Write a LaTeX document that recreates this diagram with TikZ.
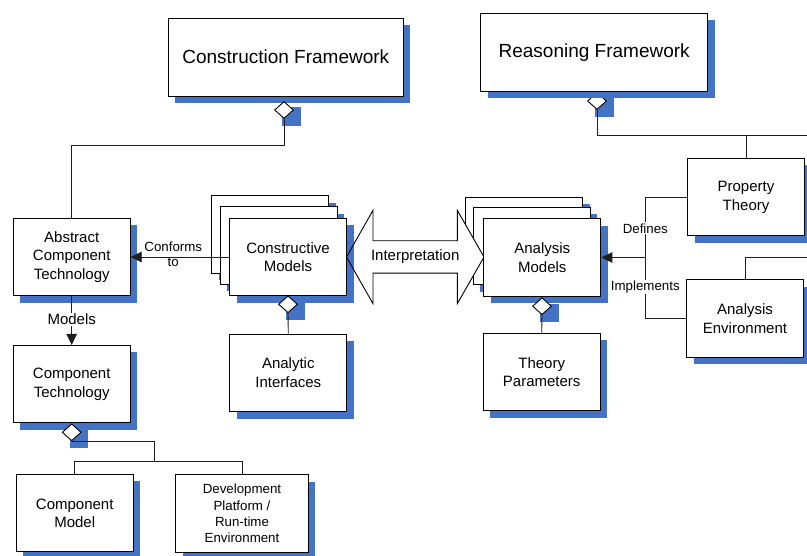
\documentclass[tikz,border=0pt]{standalone}
\usepackage{fontspec}
\setmainfont{Liberation Sans}
\usetikzlibrary{shapes.geometric,arrows.meta,shadows,calc}
\definecolor{shadowblue}{RGB}{68,114,196}
\definecolor{linegray}{RGB}{30,30,30}

\begin{document}
\begin{tikzpicture}[x=1pt,y=-1pt,
  shadowed/.style={drop shadow={shadow xshift=7pt,shadow yshift=-7pt,fill=shadowblue,opacity=1}},
  box/.style={draw=black,line width=1pt,fill=white,shadowed,minimum width=117pt,
    minimum height=77.5pt,inner sep=2pt,align=center,font=\fontsize{15}{18.5}\selectfont},
  bigbox/.style={box,minimum height=77.7pt,font=\fontsize{19}{22}\selectfont},
  smallbox/.style={box,font=\fontsize{13.3}{16.1}\selectfont},
  agg/.style={diamond,draw=black,line width=0.9pt,fill=white,minimum width=19pt,
    minimum height=17pt,inner sep=0pt},
  aggshadow/.style={rectangle,fill=shadowblue,minimum size=18.5pt,inner sep=0pt},
  conn/.style={draw=linegray,line width=0.9pt},
  arr/.style={conn,-{Triangle[length=11pt,width=10.5pt]}},
  lbl/.style={font=\fontsize{13.3}{15.6}\selectfont,align=center,inner sep=1pt},
  bigarrow/.style={draw=black,line width=0.9pt,line join=miter},
]
\useasboundingbox (0,0) rectangle (807,556);
\begin{scope}
\clip (0,0) rectangle (807,556);

% ---- stacked analysis models (back sheets) ----
\node[box] (am3) at (524.2,236.2) {};
\node[box] (am2) at (531.8,246) {};

% ---- interpretation double arrow: white body ----
\fill[white] (346.5,257) -- (373,210.3) -- (373,240.8) -- (457.3,240.8) -- (457.3,210.3)
  -- (484,257) -- (457.3,303.7) -- (457.3,273.2) -- (373,273.2) -- (373,303.7) -- cycle;

% ---- stacked constructive models ----
\node[box] (cons3) at (270.2,234.7) {};
\node[box] (cons2) at (278.5,245.4) {};
\node[box] (cons) at (288,257) {Constructive\\Models};

% ---- interpretation double arrow: outline and label ----
\draw[bigarrow] (346.5,257) -- (373,210.3) -- (373,240.8) -- (457.3,240.8) -- (457.3,210.3)
  -- (484,257) -- (457.3,303.7) -- (457.3,273.2) -- (373,273.2) -- (373,303.7) -- cycle;
\node[font=\fontsize{15}{18}\selectfont] (interp) at (415.2,257) {Interpretation};

\node[box] (am) at (542.3,257.5) {Analysis\\Models};

% ---- frameworks ----
\node[aggshadow] (drs) at (604.25,107.75) {};
\node[agg] (dr) at (597,101) {};
\node[bigbox,minimum width=227pt] (reason) at (594.2,52.2) {Reasoning Framework};
\node[bigbox,minimum width=235pt] (constr) at (285.8,57.2) {Construction Framework};
\node[aggshadow] (dcs) at (291.25,116.75) {};
\node[agg] (dc) at (284,110) {};

% ---- remaining boxes ----
\node[box] (act) at (71.7,257) {Abstract\\Component\\Technology};
\node[box] (ct) at (71.7,384.2) {Component\\Technology};
\node[box] (cm) at (74.7,513.2) {Component\\Model};
\node[smallbox,minimum width=132.6pt] (dev) at (242,513.3)
  {Development\\Platform /\\Run-time\\Environment};
\node[box] (ai) at (288.3,372.8) {Analytic\\Interfaces};
\node[box] (tp) at (541.7,372.2) {Theory\\Parameters};
\node[box] (pt) at (746,197.2) {Property\\Theory};
\node[box] (ae) at (745,318.7) {Analysis\\Environment};

% ---- aggregation diamonds ----
\node[aggshadow] (dcms) at (295.25,311.05) {};
\node[agg] (dcm) at (288,304.3) {};
\node[aggshadow] (dams) at (549.25,312.95) {};
\node[agg] (dam) at (542,306.2) {};
\node[aggshadow] (dcts) at (78.95,439.05) {};
\node[agg] (dct) at (71.7,432.3) {};

% ---- connectors ----
\coordinate (eR) at (815,135.5);
\coordinate (eA) at (815,257.3);
\coordinate (br) at (645.3,257.5);
\coordinate (jc) at (154.3,461.7);

\draw[conn] (dc.south) -- ++(0,27) -| (act.north);
\draw[conn] (dr.south) |- (eR);
\draw[conn] (pt.north) |- (eR);
\draw[conn] (ae.north) |- (eA);
\draw[conn] (pt.west) -| (br) |- (ae.west);
\draw[arr] (br) -- (am.east);
\node[lbl,fill=white] (ldef) at (645.3,228.3) {Defines};
\node[lbl,fill=white] (limp) at (645.3,286.7) {Implements};

\draw[arr] (cons.west) -- node[lbl,pos=0.567,yshift=2.8pt] (lconf) {Conforms\\to} (act.east);
\draw[arr] (act.south) -- node[lbl,font=\fontsize{15}{18}\selectfont,fill=white,pos=0.48] (lmod) {Models} (ct.north);

\draw[conn] (dcm.south) -- (ai.north);
\draw[conn] (dam.south) -- (tp.north);
\draw[conn] (dct.south) -| (jc);
\draw[conn] (cm.north) |- (jc) -| (dev.north);
\end{scope}
\end{tikzpicture}
\end{document}
